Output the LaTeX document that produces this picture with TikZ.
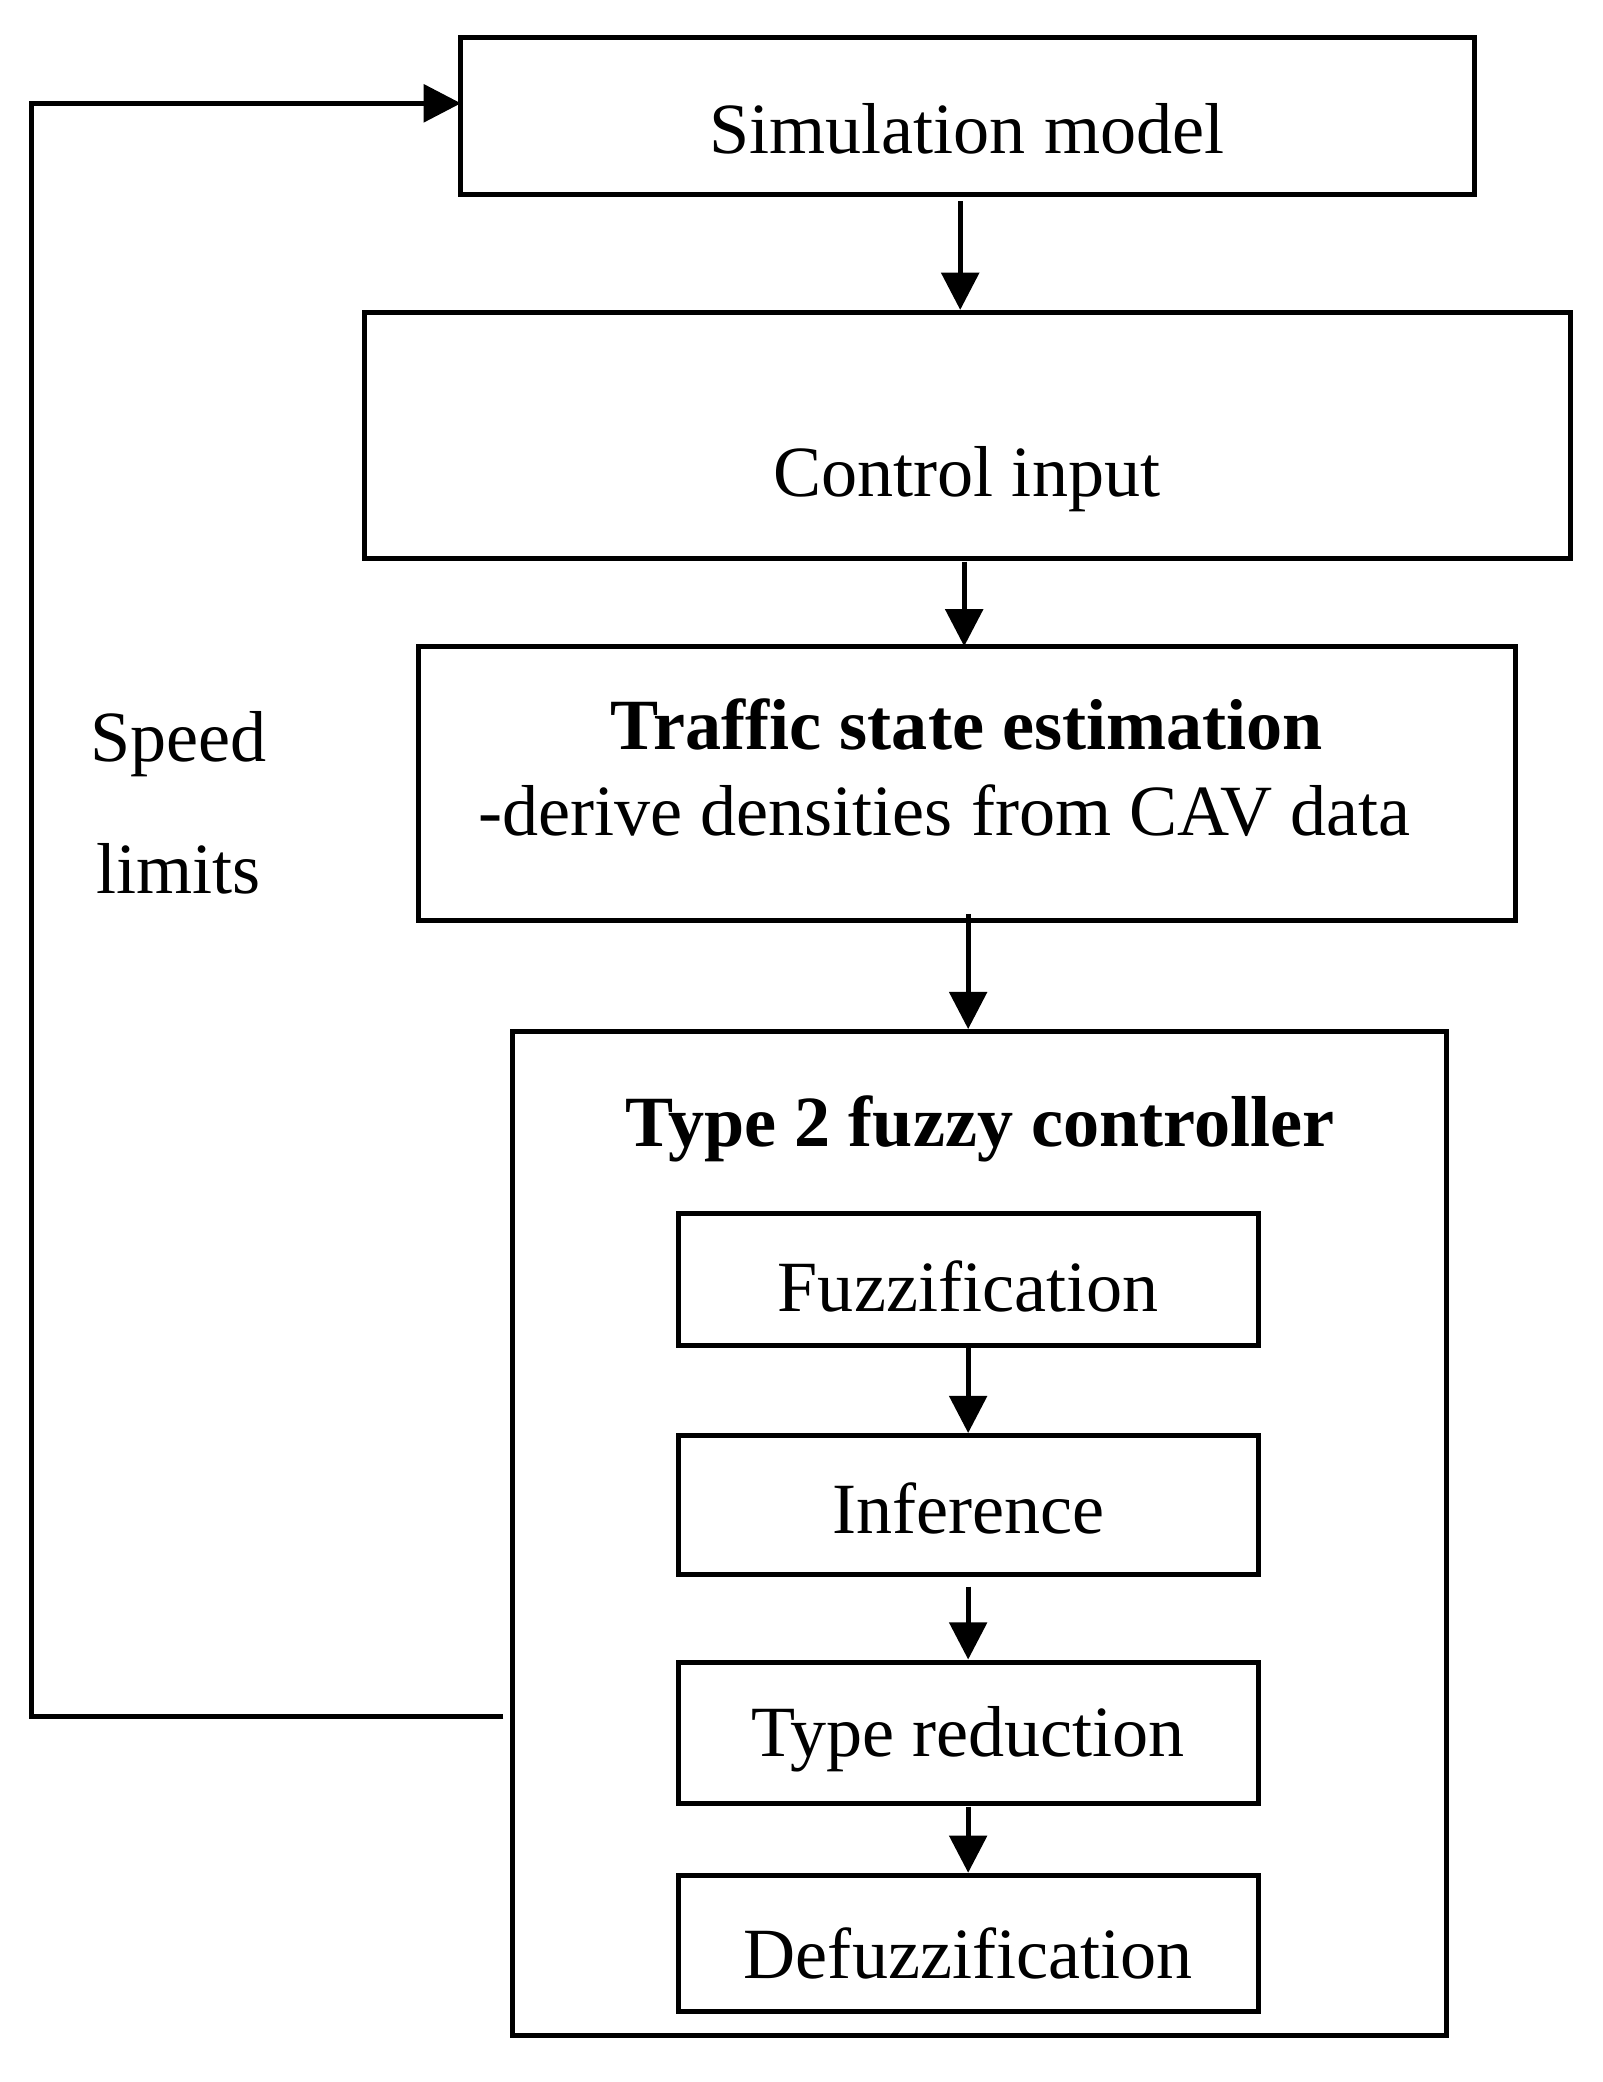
\documentclass[tikz,border=0pt]{standalone}
\usepackage{fontspec}
\setmainfont{Liberation Serif}
\usetikzlibrary{arrows.meta}
\begin{document}
\begin{tikzpicture}[x=0.02cm,y=-0.02cm,
  box/.style={draw,line width=2.2pt,inner sep=0pt},
  txt/.style={font=\fontsize{31}{37}\selectfont,inner sep=0pt},
  arr/.style={line width=2.2pt,-{Triangle[length=16pt,width=16pt]}}]
\useasboundingbox (0,0) rectangle (1210,1572);
\draw[box] (348,28) rectangle (1113,147);
\node[txt] (simt) at (730,97) {Simulation model};
\draw[box] (275,236) rectangle (1186,422);
\node[txt] (ci) at (730,362) {Control input};
\draw[box] (316,488) rectangle (1144,695);
\node[txt,font=\fontsize{31}{37}\selectfont\bfseries] (tse) at (730,547) {Traffic state estimation};
\node[txt] (tse2) at (713,612) {-derive densities from CAV data};
\draw[box] (387,779) rectangle (1092,1537);
\node[txt,font=\fontsize{31}{37}\selectfont\bfseries] (t2) at (740,852) {Type 2 fuzzy controller};
\draw[box] (512,916) rectangle (950,1016);
\node[txt] (f) at (731,971) {Fuzzification};
\draw[box] (512,1084) rectangle (950,1189);
\node[txt] (i) at (731,1139) {Inference};
\draw[box] (512,1255) rectangle (950,1362);
\node[txt] (tr) at (731,1313) {Type reduction};
\draw[box] (512,1416) rectangle (950,1519);
\node[txt] (d) at (731,1475) {Defuzzification};
\node[txt] (sl1) at (135,562) {Speed};
\node[txt] (sl2) at (135,656) {limits};
\coordinate (a1) at (725,152); \coordinate (a1e) at (725,234);
\coordinate (a2) at (728,424); \coordinate (a2e) at (728,488);
\coordinate (a3) at (731,690); \coordinate (a3e) at (731,777);
\coordinate (a4) at (731,1018); \coordinate (a4e) at (731,1082);
\coordinate (a5) at (731,1198); \coordinate (a5e) at (731,1253);
\coordinate (a6) at (731,1364); \coordinate (a6e) at (731,1414);
\draw[arr] (a1) -- (a1e);
\draw[arr] (a2) -- (a2e);
\draw[arr] (a3) -- (a3e);
\draw[arr] (a4) -- (a4e);
\draw[arr] (a5) -- (a5e);
\draw[arr] (a6) -- (a6e);
\coordinate (fb) at (380,1296); \coordinate (fe) at (348,78);
\draw[arr] (fb) -- (24,1296) -- (24,78) -- (fe);
\end{tikzpicture}
\end{document}
